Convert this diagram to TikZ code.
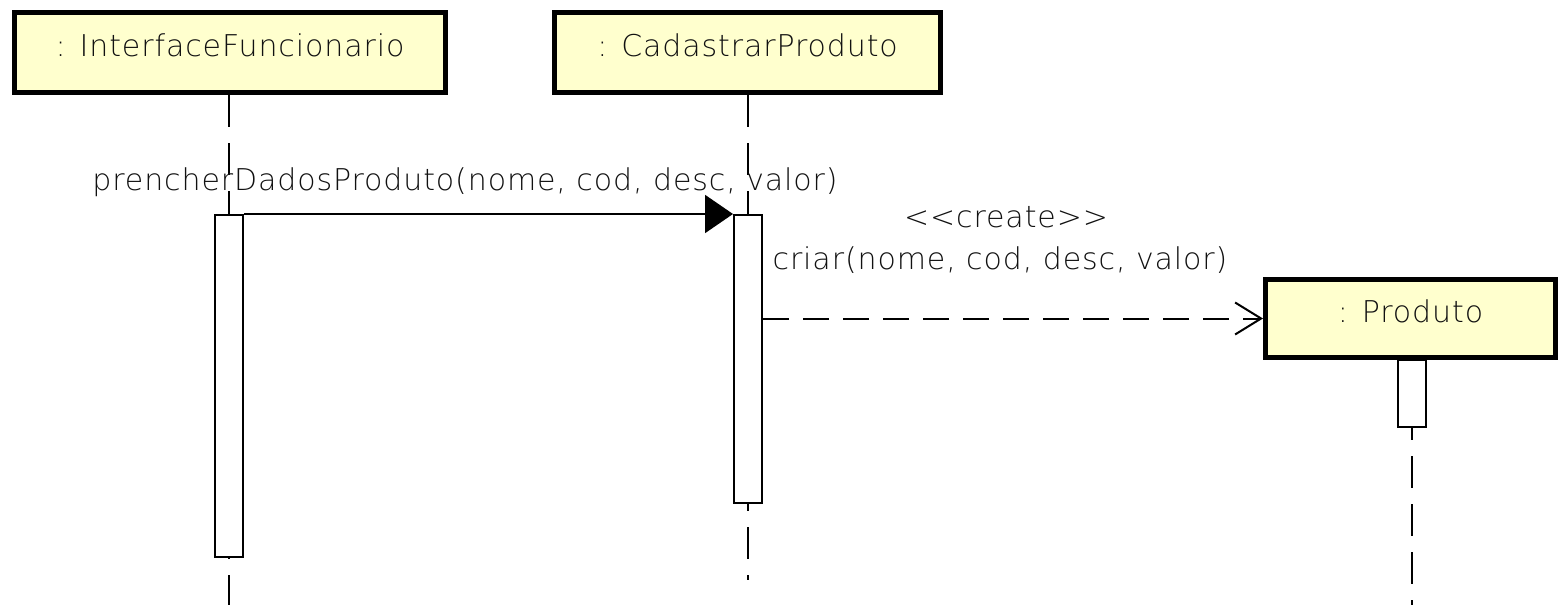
\documentclass[tikz,border=0pt]{standalone}
\usepackage{fontspec}
\usetikzlibrary{arrows.meta}
\newfontfamily\umlfont{DejaVu Sans ExtraLight}[LetterSpace=3]
\definecolor{objfill}{HTML}{FFFFCE}
\definecolor{ink}{HTML}{111111}
\begin{document}
\begin{tikzpicture}[x=0.5pt,y=-0.5pt,
  font=\umlfont\fontsize{15}{18}\selectfont,
  objbox/.style={draw=black, line width=2.5pt, fill=objfill, inner sep=0pt,
    text=ink, text height=11pt, text depth=7.5pt},
  actbox/.style={draw=black, line width=1pt, fill=white, minimum width=14pt, inner sep=0pt},
  lifeline/.style={line width=1pt, dash pattern=on 16pt off 8pt},
  call/.style={line width=1pt, -{Triangle[length=14pt,width=19pt]}},
  create/.style={line width=1pt, dash pattern=on 13pt off 7pt,
    -{Straight Barb[length=13pt,width=16pt,line width=1pt]}},
  lbl/.style={inner sep=0pt, text=ink, anchor=base}]

% canvas
\path[fill=white] (0,0) rectangle (1558,605);
\useasboundingbox (0,0) rectangle (1558,605);

% objects
\node[objbox, minimum width=215.5pt, minimum height=40pt] (obj1) at (230,52.5) {: InterfaceFuncionario};
\node[objbox, minimum width=193pt, minimum height=40pt] (obj2) at (747.5,52.5) {: CadastrarProduto};
\node[objbox, minimum width=145pt, minimum height=39pt] (obj3) at (1410.5,318.5) {: Produto};

% lifeline ends
\coordinate (end1) at (229,605);
\coordinate (end2) at (748,580);
\coordinate (end3) at (1412,605);

% lifelines
\draw[lifeline] (end1 |- obj1.south) -- (end1);
\draw[lifeline] (end2 |- obj2.south) -- (end2);
\draw[lifeline] (end3 |- obj3.south) -- (end3);

% activations
\node[actbox, minimum height=171pt] (act1) at (229,386) {};
\node[actbox, minimum height=144pt] (act2) at (748,359) {};
\node[actbox, minimum height=33.5pt] (act3) at (1412,393.5) {};

% messages
\draw[call] (act1.north east) -- (act2.north west);
\draw[create] (act2.east |- obj3.west) -- (obj3.west);

% message labels
\node[lbl] (m1) at (465,190) {prencherDadosProduto(nome, cod, desc, valor)};
\node[lbl] (st) at (1006,227) {<<create>>};
\node[lbl] (m2) at (1000,269) {criar(nome, cod, desc, valor)};
\end{tikzpicture}
\end{document}
